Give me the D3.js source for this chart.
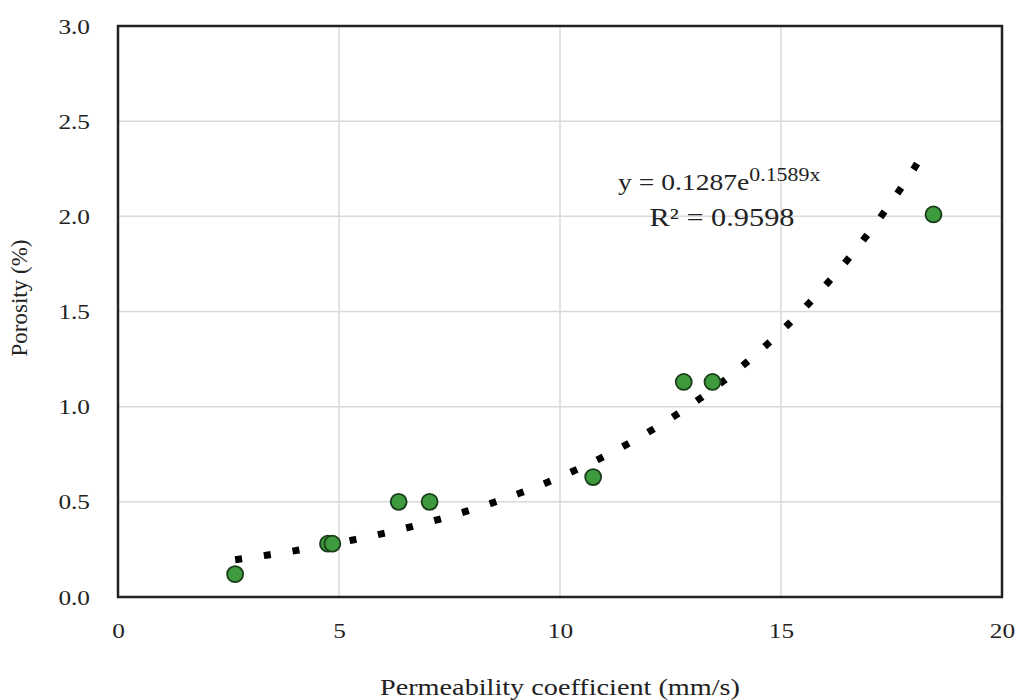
<!DOCTYPE html>
<html>
<head>
<meta charset="utf-8">
<script src="https://cdn.jsdelivr.net/npm/d3@7"></script>
<style>
	body { margin: 0; background: #fff; }
	text { font-family: "Liberation Serif", "Times New Roman", serif; fill: #222; }
</style>
</head>
<body>
<svg id="plot" width="1022" height="700"></svg>
<script>

// measured points
const permeability = [2.65, 4.75, 4.85, 6.35, 7.05, 10.75, 12.8, 13.45, 18.45];
const porosity = [0.12, 0.28, 0.28, 0.50, 0.50, 0.63, 1.13, 1.13, 2.01];

// fitted exponential trendline, as printed on the chart
const fit_a = 0.1287;
const fit_b = 0.1589;
const fit_x_range = [2.65, 18.3];

const x_ticks = [0, 5, 10, 15, 20];
const y_ticks = [0.0, 0.5, 1.0, 1.5, 2.0, 2.5, 3.0];

const svg = d3.select('#plot');

const plot_left = 118, plot_right = 1002, plot_top = 26, plot_bottom = 597;
const stretch = 1.15; // the original text looks a bit wide

const x = d3.scaleLinear().domain([0, 20]).range([plot_left, plot_right]);
const y = d3.scaleLinear().domain([0, 3]).range([plot_bottom, plot_top]);

// grid lines
svg.append('g')
	.selectAll('line')
	.data(x_ticks.slice(1, -1))
	.enter()
	.append('line')
		.attr('x1', d => x(d)).attr('x2', d => x(d))
		.attr('y1', plot_top).attr('y2', plot_bottom)
		.style('stroke', '#d9d9d9').style('stroke-width', 1.5);

svg.append('g')
	.selectAll('line')
	.data(y_ticks.slice(1, -1))
	.enter()
	.append('line')
		.attr('x1', plot_left).attr('x2', plot_right)
		.attr('y1', d => y(d)).attr('y2', d => y(d))
		.style('stroke', '#d9d9d9').style('stroke-width', 1.5);

// axes (labels only, frame drawn separately)
const x_axis = d3.axisBottom(x).tickValues(x_ticks).tickSize(0).tickPadding(25).tickFormat(d3.format('d'));
const y_axis = d3.axisLeft(y).tickValues(y_ticks).tickSize(0).tickPadding(28 / stretch).tickFormat(d3.format('.1f'));

const gx = svg.append('g').attr('transform', 'translate(0,' + plot_bottom + ')').call(x_axis);
const gy = svg.append('g').attr('transform', 'translate(' + plot_left + ',0)').call(y_axis);
[gx, gy].forEach(g => {
	g.select('.domain').remove();
	g.selectAll('text')
		.style('font-size', '22px')
		.style('font-family', '"Liberation Serif", serif')
		.attr('fill', '#222')
		.attr('transform', 'scale(' + stretch + ',1)');
});

// plot frame
svg.append('rect')
	.attr('x', plot_left).attr('y', plot_top)
	.attr('width', plot_right - plot_left).attr('height', plot_bottom - plot_top)
	.style('fill', 'none').style('stroke', '#222').style('stroke-width', 2.5);

// trendline
const trend = d3.range(0, 201).map(i => {
	const xv = fit_x_range[0] + (fit_x_range[1] - fit_x_range[0]) * i / 200;
	return [xv, fit_a * Math.exp(fit_b * xv)];
});
svg.append('path')
	.datum(trend)
	.attr('d', d3.line().x(d => x(d[0])).y(d => y(d[1])))
	.style('fill', 'none')
	.style('stroke', '#000')
	.style('stroke-width', 7)
	.style('stroke-dasharray', '7,22');

// points
svg.append('g')
	.selectAll('circle')
	.data(permeability.map((p, i) => [p, porosity[i]]))
	.enter()
	.append('circle')
		.attr('cx', d => x(d[0]))
		.attr('cy', d => y(d[1]))
		.attr('r', 8)
		.style('fill', '#3d9a3d')
		.style('stroke', '#1b3d1b')
		.style('stroke-width', 1.8);

// equation label
const eq = svg.append('text')
	.attr('transform', 'translate(618,190) scale(' + stretch + ',1)')
	.style('font-size', '24px');
eq.append('tspan').text('y = 0.1287e');
eq.append('tspan').attr('dy', -9).style('font-size', '19px').text('0.1589x');

svg.append('text')
	.attr('x', 722).attr('y', 226)
	.attr('text-anchor', 'middle')
	.attr('textLength', 145)
	.attr('lengthAdjust', 'spacingAndGlyphs')
	.style('font-size', '25px')
	.text('R² = 0.9598');

// axis titles
svg.append('text')
	.attr('x', (plot_left + plot_right) / 2).attr('y', 695)
	.attr('text-anchor', 'middle')
	.attr('textLength', 360)
	.attr('lengthAdjust', 'spacingAndGlyphs')
	.style('font-size', '24px')
	.text('Permeability coefficient (mm/s)');

svg.append('text')
	.attr('transform', 'translate(27,298) rotate(-90)')
	.attr('text-anchor', 'middle')
	.style('font-size', '23px')
	.text('Porosity (%)');

</script>
</body>
</html>
